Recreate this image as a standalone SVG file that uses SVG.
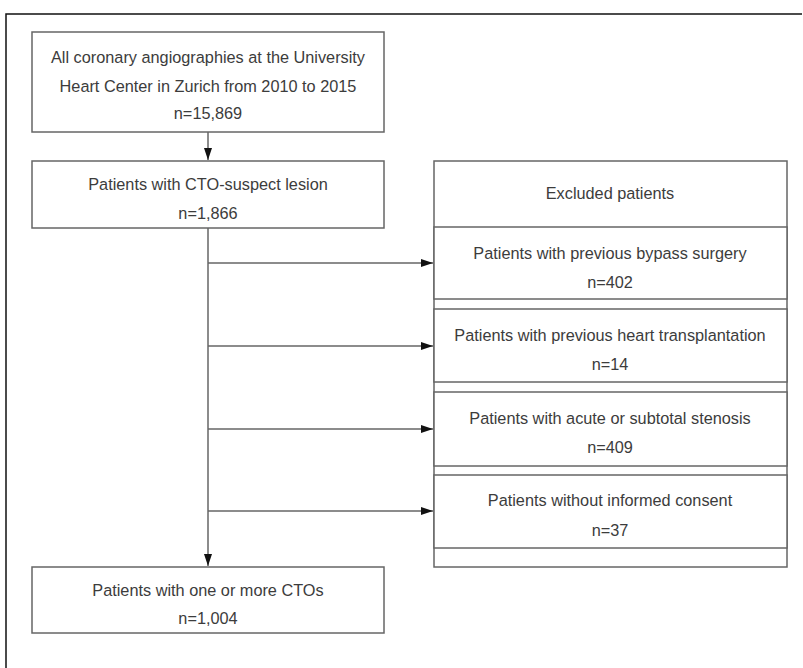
<svg xmlns="http://www.w3.org/2000/svg" width="803" height="668" viewBox="0 0 803 668">
<defs>
<style>
.box{fill:#fff;stroke:#666;stroke-width:1.5}
.ln{fill:none;stroke:#666;stroke-width:1.5}
.t{font-family:"Liberation Sans",Arial,sans-serif;font-size:16.3px;fill:#3c3c3c;text-anchor:middle;dominant-baseline:central}
.frame{fill:none;stroke:#111;stroke-width:1.5}
</style>
<marker id="ah" markerWidth="12" markerHeight="8" refX="12" refY="4" orient="auto" markerUnits="userSpaceOnUse">
<path d="M0,0 L12,4 L0,8 Z" fill="#111"/>
</marker>
</defs>
<rect width="803" height="668" fill="#fff"/>
<path class="frame" d="M6,668 V14 H802"/>
<g id="connectors">
<line class="ln" x1="208" y1="132" x2="208" y2="160" marker-end="url(#ah)"/>
<line class="ln" x1="208" y1="228" x2="208" y2="566" marker-end="url(#ah)"/>
<line class="ln" x1="208" y1="263" x2="433" y2="263" marker-end="url(#ah)"/>
<line class="ln" x1="208" y1="346" x2="433" y2="346" marker-end="url(#ah)"/>
<line class="ln" x1="208" y1="429" x2="433" y2="429" marker-end="url(#ah)"/>
<line class="ln" x1="208" y1="511" x2="433" y2="511" marker-end="url(#ah)"/>
</g>
<g id="n1">
<rect class="box" x="32" y="32" width="352" height="100"/>
<text class="t" x="208" y="57">All coronary angiographies at the University</text>
<text class="t" x="208" y="86">Heart Center in Zurich from 2010 to 2015</text>
<text class="t" x="208" y="113">n=15,869</text>
</g>
<g id="n2">
<rect class="box" x="32" y="161" width="352" height="67"/>
<text class="t" x="208" y="184">Patients with CTO-suspect lesion</text>
<text class="t" x="208" y="213">n=1,866</text>
</g>
<g id="excluded">
<rect class="box" x="434" y="161" width="353" height="406"/>
<text class="t" x="610" y="193">Excluded patients</text>
</g>
<g id="ex1">
<rect class="box" x="434" y="227" width="353" height="72"/>
<text class="t" x="610" y="253">Patients with previous bypass surgery</text>
<text class="t" x="610" y="282">n=402</text>
</g>
<g id="ex2">
<rect class="box" x="434" y="309" width="353" height="73"/>
<text class="t" x="610" y="335">Patients with previous heart transplantation</text>
<text class="t" x="610" y="364">n=14</text>
</g>
<g id="ex3">
<rect class="box" x="434" y="392" width="353" height="74"/>
<text class="t" x="610" y="418">Patients with acute or subtotal stenosis</text>
<text class="t" x="610" y="447">n=409</text>
</g>
<g id="ex4">
<rect class="box" x="434" y="475" width="353" height="73"/>
<text class="t" x="610" y="500">Patients without informed consent</text>
<text class="t" x="610" y="530">n=37</text>
</g>
<g id="n3">
<rect class="box" x="32" y="567" width="352" height="66"/>
<text class="t" x="208" y="590">Patients with one or more CTOs</text>
<text class="t" x="208" y="618">n=1,004</text>
</g>
</svg>
